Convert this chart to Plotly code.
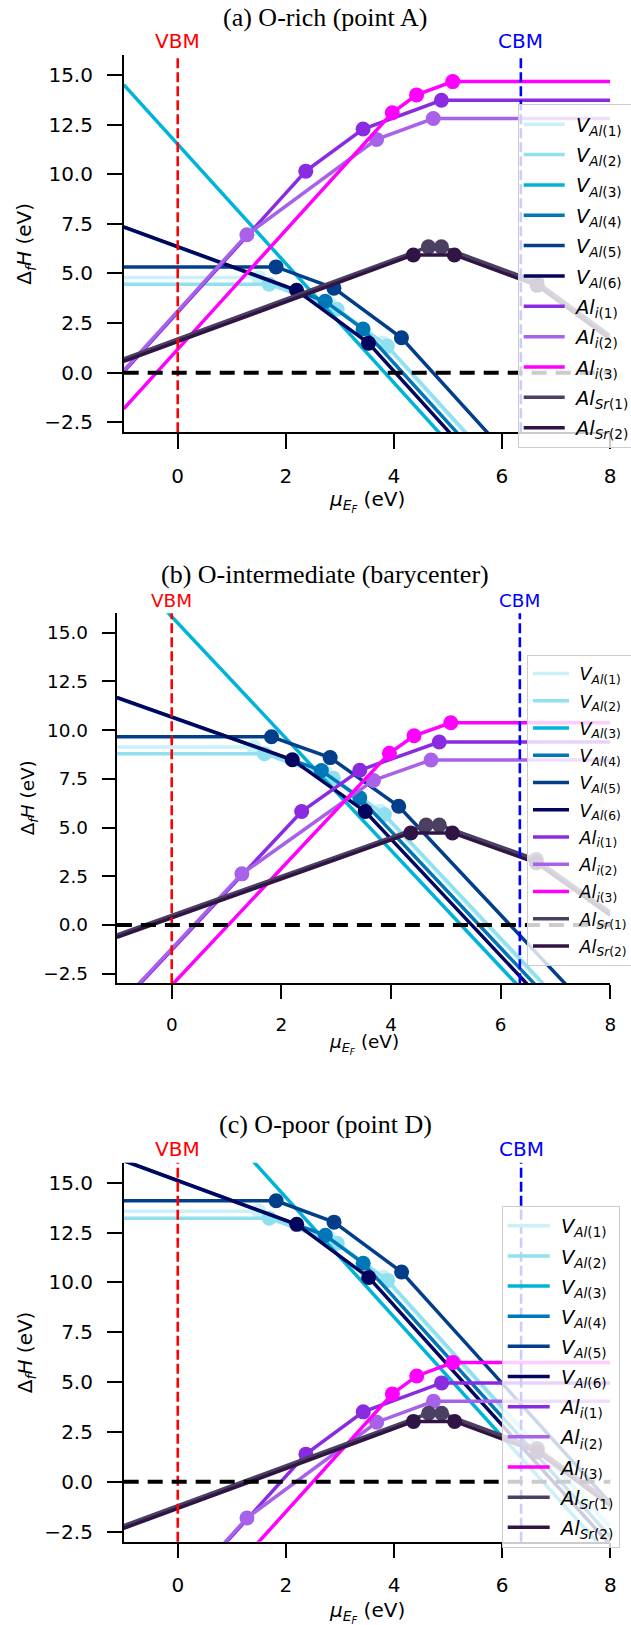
import plotly.graph_objects as go

W, H = 631, 1625

# ---------------- data ----------------
x_range = [-1, 8]
y_range = [-3, 16]
x_ticks = [0, 2, 4, 6, 8]
y_ticks = [-2.5, 0.0, 2.5, 5.0, 7.5, 10.0, 12.5, 15.0]
vbm_level = 0.0
cbm_level = 6.35

panel_titles = ["(a) O-rich (point A)",
                "(b) O-intermediate (barycenter)",
                "(c) O-poor (point D)"]

defect_labels = [
    "<i>V</i><sub><i>Al</i>(1)</sub>",
    "<i>V</i><sub><i>Al</i>(2)</sub>",
    "<i>V</i><sub><i>Al</i>(3)</sub>",
    "<i>V</i><sub><i>Al</i>(4)</sub>",
    "<i>V</i><sub><i>Al</i>(5)</sub>",
    "<i>V</i><sub><i>Al</i>(6)</sub>",
    "<i>Al</i><sub><i>i</i>(1)</sub>",
    "<i>Al</i><sub><i>i</i>(2)</sub>",
    "<i>Al</i><sub><i>i</i>(3)</sub>",
    "<i>Al</i><sub><i>Sr</i>(1)</sub>",
    "<i>Al</i><sub><i>Sr</i>(2)</sub>",
]

defect_colors = ["#caf0f8", "#90e0ef", "#00b4d8", "#0077b6", "#023e8a", "#03045e",
                 "#8a2be2", "#a862ea", "#ff00ff", "#4b4062", "#301544"]

# transition levels (Fermi-level positions of the dots), shared by all panels
transition_x = [
    [1.50, 2.80, 3.80],
    [1.69, 2.95, 3.88],
    [],
    [2.73, 3.43],
    [1.82, 2.89, 4.14],
    [2.20, 3.53],
    [2.37, 3.43, 4.88],
    [1.28, 3.68, 4.73],
    [3.97, 4.42, 5.09],
    [4.64, 4.88, 6.65],
    [4.36, 5.12, 6.65],
]

# formation energies at x=-1, at each transition level, and at x=8
energy_a = [
    [4.80, 4.80, 3.50, 1.50, -11.10],
    [4.46, 4.46, 3.20, 1.34, -11.02],
    [14.50, -12.50],
    [7.33, 3.60, 2.20, -11.51],
    [5.33, 5.33, 4.26, 1.76, -9.82],
    [7.35, 4.15, 1.49, -11.92],
    [0.04, 10.15, 12.27, 13.72, 13.72],
    [0.11, 6.95, 11.75, 12.80, 12.80],
    [-1.82, 13.09, 13.99, 14.66, 14.66],
    [0.70, 6.34, 6.34, 4.57, 1.87],
    [0.57, 5.93, 5.93, 4.40, 1.70],
]
energy_b = [
    [9.13, 9.13, 7.83, 5.83, -6.77],
    [8.79, 8.79, 7.53, 5.67, -6.69],
    [18.83, -8.17],
    [11.66, 7.93, 6.53, -7.18],
    [9.66, 9.66, 8.59, 6.09, -5.49],
    [11.68, 8.48, 5.82, -7.59],
    [-4.29, 5.82, 7.94, 9.39, 9.39],
    [-4.22, 2.62, 7.42, 8.47, 8.47],
    [-6.10, 8.81, 9.71, 10.38, 10.38],
    [-0.51, 5.13, 5.13, 3.36, 0.66],
    [-0.64, 4.72, 4.72, 3.19, 0.49],
]
energy_c = [
    [13.56, 13.56, 12.26, 10.26, -2.34],
    [13.22, 13.22, 11.96, 10.10, -2.26],
    [23.26, -3.74],
    [16.09, 12.36, 10.96, -2.75],
    [14.09, 14.09, 13.02, 10.52, -1.06],
    [16.11, 12.91, 10.25, -3.16],
    [-8.72, 1.39, 3.51, 4.96, 4.96],
    [-8.65, -1.81, 2.99, 4.04, 4.04],
    [-10.50, 4.41, 5.31, 5.98, 5.98],
    [-2.20, 3.44, 3.44, 1.67, -1.03],
    [-2.33, 3.03, 3.03, 1.50, -1.20],
]
energies = [energy_a, energy_b, energy_c]

# ---------------- layout geometry (pixels) ----------------
panels = [
    dict(l=123.7, r=610.0, t=55.0, b=432.3, fs=20, lfs=19.5, title_y=17.5,
         leg_x=517.7, leg_y=104.0, itemw=41, gap=2.0, ylab_x=25, xlab_dy=69, tick=15,
         entryw=120),
    dict(l=116.9, r=610.3, t=613.3, b=983.3, fs=18.4, lfs=17.5, title_y=574.5,
         leg_x=527.0, leg_y=654.6, itemw=36, gap=1.5, ylab_x=29, xlab_dy=61, tick=13.5,
         entryw=94),
    dict(l=123.7, r=610.3, t=1162.7, b=1541.7, fs=20, lfs=19.5, title_y=1124.0,
         leg_x=501.7, leg_y=1205.6, itemw=42, gap=1.8, ylab_x=26, xlab_dy=70, tick=15,
         entryw=107),
]

FONT = "DejaVu Sans"
SERIF = "Liberation Serif"
LW = 3.5
MS = 15


def px(x):
    return x / W


def py(y):
    return 1 - y / H


fig = go.Figure()
layout = dict(width=W, height=H, margin=dict(l=0, r=0, t=0, b=0, autoexpand=False),
              paper_bgcolor="white", plot_bgcolor="white",
              font=dict(family=FONT, color="black"), showlegend=True)
annotations = []
shapes = []

for p, g in enumerate(panels):
    sfx = "" if p == 0 else str(p + 1)
    xa, ya = "x" + sfx, "y" + sfx
    leg = "legend" + sfx
    for i, lab in enumerate(defect_labels):
        xs = [x_range[0]] + transition_x[i] + [x_range[1]]
        ys = energies[p][i]
        fig.add_trace(go.Scatter(x=xs, y=ys, mode="lines", name="&nbsp;" + lab,
                                 line=dict(color=defect_colors[i], width=LW),
                                 xaxis=xa, yaxis=ya, legend=leg,
                                 legendgroup=f"g{p}_{i}", hoverinfo="skip"))
        if transition_x[i]:
            fig.add_trace(go.Scatter(x=transition_x[i], y=ys[1:-1], mode="markers",
                                     marker=dict(color=defect_colors[i], size=MS),
                                     xaxis=xa, yaxis=ya, showlegend=False,
                                     legendgroup=f"g{p}_{i}", hoverinfo="skip"))

    axis_common = dict(showgrid=False, zeroline=False, showline=True, linecolor="black",
                       linewidth=1.5, ticks="outside", ticklen=g["tick"], tickwidth=2,
                       tickcolor="black", tickfont=dict(size=g["fs"], family=FONT),
                       mirror=False)
    layout["xaxis" + sfx] = dict(axis_common, domain=[px(g["l"]), px(g["r"])],
                                 range=x_range, tickvals=x_ticks, anchor=ya,
                                 ticklabelstandoff=10)
    layout["yaxis" + sfx] = dict(axis_common, domain=[py(g["b"]), py(g["t"])],
                                 range=y_range, tickvals=y_ticks, tickformat=".1f",
                                 anchor=xa, ticklabelstandoff=10)
    layout[leg] = dict(x=px(g["leg_x"]), y=py(g["leg_y"]), xanchor="left", yanchor="top",
                       bgcolor="rgba(255,255,255,0.8)", bordercolor="#cccccc",
                       borderwidth=1, font=dict(size=g["lfs"], family=FONT),
                       itemwidth=g["itemw"], tracegroupgap=g["gap"],
                       entrywidth=g["entryw"], entrywidthmode="pixels")

    # reference lines
    shapes.append(dict(type="line", xref=xa, yref=ya + " domain", x0=vbm_level, x1=vbm_level,
                       y0=0, y1=1, line=dict(color="red", width=2.6, dash="10px,4px"),
                       layer="above"))
    shapes.append(dict(type="line", xref=xa, yref=ya + " domain", x0=cbm_level, x1=cbm_level,
                       y0=0, y1=1, line=dict(color="blue", width=2.6, dash="10px,4px"),
                       layer="above"))
    shapes.append(dict(type="line", xref=xa + " domain", yref=ya, x0=0, x1=1, y0=0, y1=0,
                       line=dict(color="black", width=4, dash="15px,9px"), layer="above"))

    # texts
    annotations.append(dict(text="VBM", x=vbm_level, xref=xa, y=py(g["t"]), yref="paper",
                            xanchor="center", yanchor="bottom", showarrow=False,
                            font=dict(color="red", size=g["fs"], family=FONT)))
    annotations.append(dict(text="CBM", x=cbm_level, xref=xa, y=py(g["t"]), yref="paper",
                            xanchor="center", yanchor="bottom", showarrow=False,
                            font=dict(color="blue", size=g["fs"], family=FONT)))
    annotations.append(dict(text=panel_titles[p], x=px(325), y=py(g["title_y"]),
                            xref="paper", yref="paper", xanchor="center", yanchor="middle",
                            showarrow=False, font=dict(size=26, family=SERIF)))
    annotations.append(dict(text="<i>μ</i><sub><i>E</i><sub><i>F</i></sub></sub> (eV)",
                            x=px((g["l"] + g["r"]) / 2), y=py(g["b"] + g["xlab_dy"]),
                            xref="paper", yref="paper", xanchor="center", yanchor="middle",
                            showarrow=False, font=dict(size=g["fs"], family=FONT)))
    annotations.append(dict(text="Δ<sub><i>f</i></sub><i>H</i> (eV)",
                            x=px(g["ylab_x"]), y=py((g["t"] + g["b"]) / 2),
                            xref="paper", yref="paper", xanchor="center", yanchor="middle",
                            textangle=-90, showarrow=False,
                            font=dict(size=g["fs"], family=FONT)))

layout["annotations"] = annotations
layout["shapes"] = shapes
fig.update_layout(**layout)
fig.write_html("out.html")
